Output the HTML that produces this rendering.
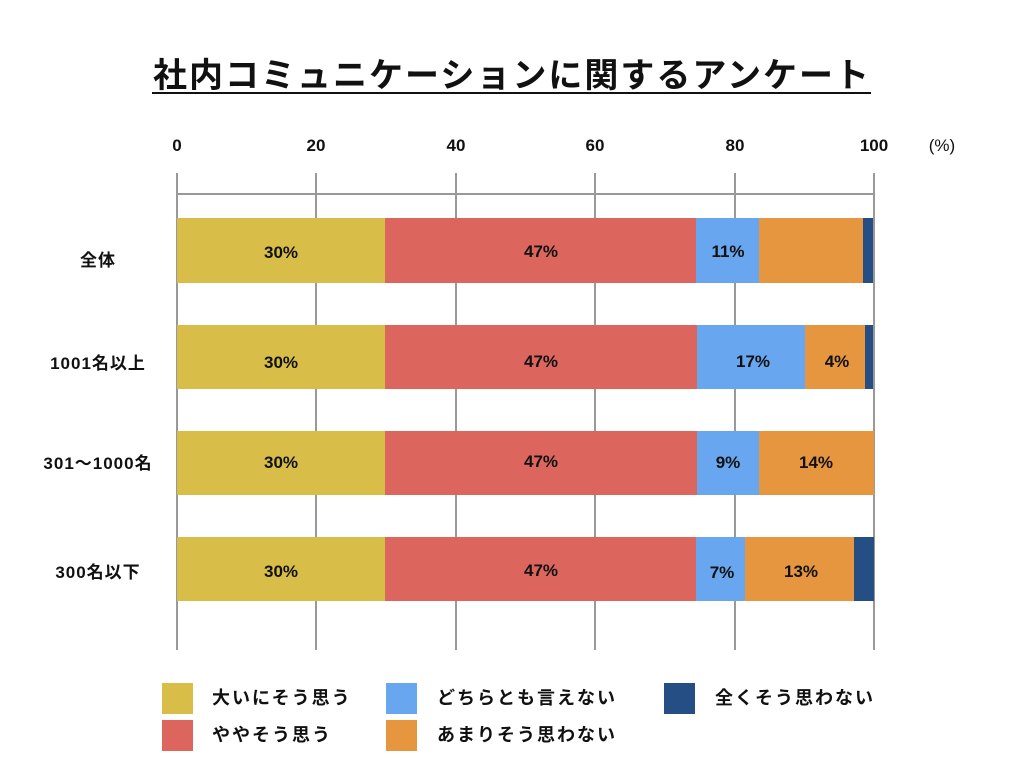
<!DOCTYPE html>
<html><head><meta charset="utf-8"><style>
html,body{margin:0;padding:0;background:#fff;}
svg{display:block;font-family:"Liberation Sans","Noto Sans CJK JP",sans-serif;}
</style></head><body>
<svg width="1024" height="768" viewBox="0 0 1024 768" xmlns="http://www.w3.org/2000/svg">
<rect width="1024" height="768" fill="#fff"/>
<text x="512" y="87" font-size="34" font-weight="bold" text-anchor="middle" fill="#111" letter-spacing="2">社内コミュニケーションに関するアンケート</text>
<line x1="152" y1="93" x2="871" y2="93" stroke="#111" stroke-width="2"/>
<g font-size="17" font-weight="bold" fill="#111" text-anchor="middle">
<text x="177" y="151">0</text><text x="316" y="151">20</text><text x="456" y="151">40</text>
<text x="595" y="151">60</text><text x="735" y="151">80</text><text x="874" y="151">100</text>
<text x="942" y="151" font-weight="normal">(%)</text>
</g>
<g stroke="#999" stroke-width="2">
<line x1="177" y1="173" x2="177" y2="650"/><line x1="316" y1="173" x2="316" y2="650"/>
<line x1="456" y1="173" x2="456" y2="650"/><line x1="595" y1="173" x2="595" y2="650"/>
<line x1="735" y1="173" x2="735" y2="650"/><line x1="874" y1="173" x2="874" y2="650"/>
<line x1="177" y1="194" x2="874" y2="194"/>
</g>
<rect x="177" y="218" width="208" height="65" fill="#D8BE48"/>
<rect x="385" y="218" width="311" height="65" fill="#DC665E"/>
<rect x="696" y="218" width="63" height="65" fill="#68A6EF"/>
<rect x="759" y="218" width="104" height="65" fill="#E6963E"/>
<rect x="863" y="218" width="10" height="65" fill="#254E85"/>
<rect x="177" y="325" width="208" height="64" fill="#D8BE48"/>
<rect x="385" y="325" width="312" height="64" fill="#DC665E"/>
<rect x="697" y="325" width="108" height="64" fill="#68A6EF"/>
<rect x="805" y="325" width="60" height="64" fill="#E6963E"/>
<rect x="865" y="325" width="8" height="64" fill="#254E85"/>
<rect x="177" y="431" width="208" height="64" fill="#D8BE48"/>
<rect x="385" y="431" width="312" height="64" fill="#DC665E"/>
<rect x="697" y="431" width="62" height="64" fill="#68A6EF"/>
<rect x="759" y="431" width="115" height="64" fill="#E6963E"/>
<rect x="177" y="537" width="208" height="64" fill="#D8BE48"/>
<rect x="385" y="537" width="311" height="64" fill="#DC665E"/>
<rect x="696" y="537" width="49" height="64" fill="#68A6EF"/>
<rect x="745" y="537" width="109" height="64" fill="#E6963E"/>
<rect x="854" y="537" width="20" height="64" fill="#254E85"/>
<g font-size="17" font-weight="bold" fill="#111" text-anchor="middle">
<text x="281" y="258">30%</text><text x="541" y="257">47%</text><text x="728" y="257">11%</text>
<text x="281" y="368">30%</text><text x="541" y="367">47%</text><text x="753" y="367">17%</text><text x="837" y="367">4%</text>
<text x="281" y="468">30%</text><text x="541" y="467">47%</text><text x="728" y="468">9%</text><text x="816" y="468">14%</text>
<text x="281" y="577">30%</text><text x="541" y="576">47%</text><text x="722" y="578">7%</text><text x="801" y="577">13%</text>
</g>
<g font-size="17" font-weight="bold" fill="#111" text-anchor="middle" letter-spacing="1">
<text x="98" y="266">全体</text>
<text x="98" y="369">1001名以上</text>
<text x="98" y="469">301〜1000名</text>
<text x="98" y="578">300名以下</text>
</g>
<rect x="162" y="683" width="31" height="31" fill="#D8BE48"/>
<rect x="162" y="720" width="31" height="31" fill="#DC665E"/>
<rect x="386" y="683" width="31" height="31" fill="#68A6EF"/>
<rect x="386" y="720" width="31" height="31" fill="#E6963E"/>
<rect x="664" y="683" width="31" height="31" fill="#254E85"/>
<g font-size="18" font-weight="bold" fill="#111" letter-spacing="2">
<text x="212" y="704">大いにそう思う</text>
<text x="212" y="741">ややそう思う</text>
<text x="437" y="704">どちらとも言えない</text>
<text x="437" y="741">あまりそう思わない</text>
<text x="715" y="704">全くそう思わない</text>
</g>
</svg>
</body></html>
